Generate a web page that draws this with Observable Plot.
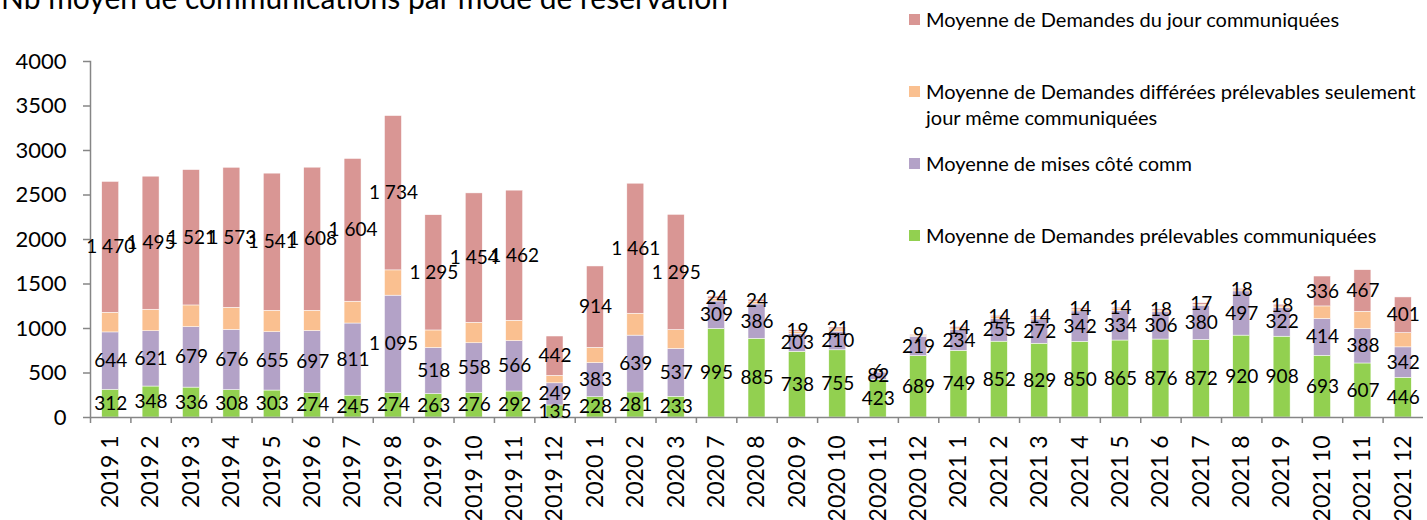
<!DOCTYPE html>
<html><head><meta charset="utf-8">
<script src="https://cdn.jsdelivr.net/npm/d3@7"></script>
<script src="https://cdn.jsdelivr.net/npm/@observablehq/plot@0.6"></script>
<style>
body{margin:0;background:#fff;}
#wrap{position:relative;width:1427px;height:520px;overflow:hidden;font-family:Lato,"Open Sans",sans-serif;}
#chart{position:absolute;left:0;top:0;}
#title{position:absolute;left:1px;top:-18px;font-size:30px;line-height:1;white-space:nowrap;color:#000;}
.leg{position:absolute;left:909px;font-size:20px;line-height:26px;color:#000;white-space:nowrap;}
.sw{position:absolute;left:0;top:8px;width:11px;height:11px;}
.lt{position:absolute;left:17px;top:0;}
</style></head>
<body><div id="wrap"><div id="chart"></div><div id="title">Nb moyen de communications par mode de réservation</div></div>
<script>
const categories = ["2019 1","2019 2","2019 3","2019 4","2019 5","2019 6","2019 7","2019 8","2019 9","2019 10","2019 11","2019 12",
  "2020 1","2020 2","2020 3","2020 7","2020 8","2020 9","2020 10","2020 11","2020 12",
  "2021 1","2021 2","2021 3","2021 4","2021 5","2021 6","2021 7","2021 8","2021 9","2021 10","2021 11","2021 12"];
const prelevables = [312,348,336,308,303,274,245,274,263,276,292,135, 228,281,233,995,885,738,755,423,689, 749,852,829,850,865,876,872,920,908,693,607,446];
const misesComm = [644,621,679,676,655,697,811,1095,518,558,566,249, 383,639,537,309,386,203,210,82,219, 234,255,272,342,334,306,380,497,322,414,388,342];
const differees = [221,242,244,249,241,228,245,284,197,230,229,84, 172,246,212,30,30,20,25,8,12, 18,20,20,20,20,15,15,12,18,141,193,160];
const duJour = [1470,1495,1521,1573,1541,1608,1604,1734,1295,1454,1462,442, 914,1461,1295,24,24,19,21,6,9, 14,14,14,14,14,18,17,18,18,336,467,401];
const seriesNames = ["Moyenne de Demandes prélevables communiquées","Moyenne de mises côté comm","Moyenne de Demandes différées prélevables seulement jour même communiquées","Moyenne de Demandes du jour communiquées"];
const seriesColors = ["#92D050","#B3A2C7","#FAC090","#D99694"];
const labelled = [true,true,false,true];
const yTicks = [0,500,1000,1500,2000,2500,3000,3500,4000];

const seriesValues = [prelevables, misesComm, differees, duJour];
const rows = [];
seriesNames.forEach((s, si) => categories.forEach((c, ci) => rows.push({cat: c, series: s, value: seriesValues[si][ci], show: labelled[si]})));

const fmt = v => v >= 1000 ? Math.floor(v/1000) + "\u00a0" + String(v % 1000).padStart(3, "0") : String(v);

const W = 1427, H = 520, mL = 90, mR = 4, mT = 61, mB = 103;
const step = (W - mL - mR) / categories.length;
const gray = "#868686";

const chart = Plot.plot({
  width: W, height: H,
  marginLeft: mL, marginRight: mR, marginTop: mT, marginBottom: mB,
  style: {fontFamily: "Lato, 'Open Sans', sans-serif", color: "#000", background: "#fff"},
  x: {domain: categories, paddingInner: 0.58, paddingOuter: 0.29, round: false, label: null},
  y: {domain: [0, 4000], label: null},
  color: {domain: seriesNames, range: seriesColors},
  marks: [
    Plot.barY(rows, {x: "cat", y: "value", fill: "series", order: seriesNames, stroke: "#fff", strokeWidth: 0.5}),
    Plot.ruleY([0], {stroke: gray, strokeWidth: 1.5}),
    Plot.frame({anchor: "left", stroke: gray, strokeWidth: 1.5}),
    Plot.ruleX(categories, {x: d => d, y1: 0, y2: 0, insetBottom: -6, dx: -step / 2, stroke: gray, strokeWidth: 1.5}),
    Plot.axisY({ticks: yTicks, tickSize: 7, tickPadding: 17, fontSize: 22, stroke: gray, strokeWidth: 1.5, tickFormat: d => String(d)}),
    Plot.axisX({tickRotate: -90, tickSize: 0, tickPadding: 18, fontSize: 23}),
    Plot.text(rows, Plot.stackY({x: "cat", y: "value", z: "series", order: seriesNames,
      text: d => d.show ? fmt(d.value) : null, fontSize: 19, fill: "#000"}))
  ]
});
document.getElementById("chart").appendChild(chart);

// legend
const wrap = document.getElementById("wrap");
const legendTops = [6, 78, 150, 222];
const legendOrder = [3, 2, 1, 0];
legendOrder.forEach((si, k) => {
  const d = document.createElement("div");
  d.className = "leg";
  d.style.top = legendTops[k] + "px";
  const sw = document.createElement("div");
  sw.className = "sw"; sw.style.background = seriesColors[si];
  const t = document.createElement("div");
  t.className = "lt";
  t.innerHTML = si === 2 ? "Moyenne de Demandes différées prélevables seulement<br>jour même communiquées" : seriesNames[si];
  d.appendChild(sw); d.appendChild(t);
  wrap.appendChild(d);
});
</script>
</body></html>
